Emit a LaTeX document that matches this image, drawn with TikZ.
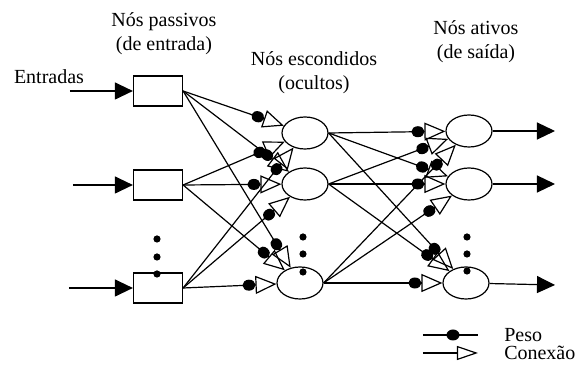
\documentclass[tikz,border=0pt]{standalone}
\usepackage{fontspec}
\setmainfont{Liberation Serif}
\usetikzlibrary{arrows.meta,shapes.geometric}

\begin{document}
\begin{tikzpicture}[x=0.5pt,y=-0.5pt,line width=0.6pt,
   box/.style={rectangle,draw,minimum width=24.5pt,
    minimum height=15pt,inner sep=0pt},
   neuron/.style={ellipse,draw,minimum width=23pt,
    minimum height=16pt,inner sep=0pt},
   pt/.style={circle,fill,inner sep=0pt,minimum size=3.6pt},
   wdot/.style={ellipse,fill,inner sep=0pt,minimum width=6.5pt,minimum height=5.5pt},
   feed/.style={-{Triangle[length=9pt,width=8.5pt]}},
   conn/.style={-{Circle[length=6.5pt,width=5.5pt] Triangle[open,length=10.5pt,width=9pt]}}
    ]
  \useasboundingbox (0,0) rectangle (575,368);

  % -- titles
  \node[align=center] (tin) at (164,34) {Nós passivos\\(de entrada)};
  \node[align=center] (thid) at (314,73) {Nós escondidos\\(ocultos)};
  \node[align=center] (tout) at (476,42) {Nós ativos\\(de saída)};
  \node (tent) at (49,77) {Entradas};

  % -- input boxes
  \node[box] at (158,91) (b1) {};
  \node[box] at (158,185) (b2) {};
  \node[box] at (158,288) (b3) {};

  % -- hidden nodes
  \node[neuron] at (305,133) (h1) {};
  \node[neuron] at (305,184) (h2) {};
  \node[neuron] at (300,283) (h3) {};

  % -- output nodes
  \node[neuron] at (469,131) (o1) {};
  \node[neuron] at (469,184) (o2) {};
  \node[neuron] at (466,283) (o3) {};

  % -- dots
  \node[pt] (da1) at (157,239) {};
  \node[pt] (da2) at (157,257) {};
  \node[pt] (da3) at (157,274) {};
  \node[pt] (db1) at (303,237) {};
  \node[pt] (db2) at (303,254) {};
  \node[pt] (db3) at (303,272) {};
  \node[pt] (dc1) at (467,237) {};
  \node[pt] (dc2) at (467,254) {};
  \node[pt] (dc3) at (467,271) {};

  % -- inputs and outputs
  \coordinate (i1) at (70,91);
  \coordinate (i2) at (73,185);
  \coordinate (i3) at (69,288);
  \coordinate (y1) at (555,131);
  \coordinate (y2) at (555,184);
  \coordinate (y3) at (555,285);
  \foreach \k in {1,2,3} {
    \draw[feed] (i\k) -- (b\k);
    \draw[feed] (o\k) -- (y\k);
  }

  % -- weighted connections
  \foreach \i in {1,2,3}
    \foreach \j in {1,2,3} {
      \draw[conn] (b\i.east) -- (h\j);
      \draw[conn] (h\i.east) -- (o\j);
    }

  % -- legend
  \coordinate (pa) at (423,335);
  \coordinate (pb) at (478,335);
  \coordinate (ca) at (423,353);
  \coordinate (cb) at (478,353);
  \draw (pa) -- (pb);
  \node[wdot] (pw) at (453,335) {};
  \draw[-{Triangle[open,length=10.5pt,width=7pt]}] (ca) -- (cb);
  \node[anchor=west] (lpeso) at (497,335) {Peso};
  \node[anchor=west] (lcon) at (497,353) {Conexão};

\end{tikzpicture}
\end{document}
